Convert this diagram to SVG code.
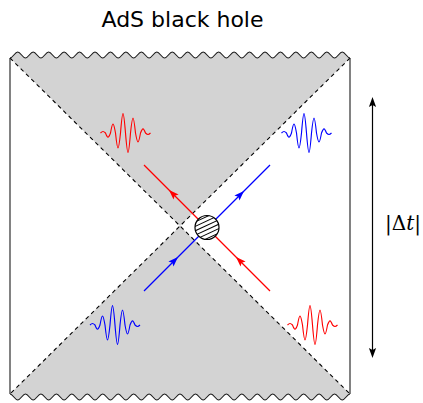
<svg xmlns="http://www.w3.org/2000/svg" xmlns:xlink="http://www.w3.org/1999/xlink" width="423" height="403" viewBox="0 0 423 403">
<style>
.edge{fill:none;stroke:#1a1a1a;stroke-width:1.1}
.gray{fill:#d3d3d3;stroke:none}
.dash{fill:none;stroke:#000;stroke-width:1.1;stroke-dasharray:4 3.5}
.pk{fill:none;stroke-width:1.15;stroke-linejoin:round}
.ray{fill:none;stroke-width:1.2}
.red{stroke:#ff0000}
.blue{stroke:#0000ff}
.title{font-family:"DejaVu Sans","Liberation Sans",sans-serif;font-size:22px;fill:#000}
.lbl{font-family:"DejaVu Serif","Liberation Serif",serif;font-size:20px;fill:#000}
</style>
<defs>
<path id="packet" d="M-25,0 C-22.88,-2 -22.12,-2 -20,0 C-17.88,5.6 -17.12,5.6 -15,0 C-12.88,-12 -12.12,-12 -10,0 C-7.88,20 -7.12,20 -5,0 C-2.88,-25.9 -2.12,-25.9 0,0 C2.12,25.9 2.88,25.9 5,0 C7.12,-20 7.88,-20 10,0 C12.12,12 12.88,12 15,0 C17.12,-5.6 17.88,-5.6 20,0 C22.12,2 22.88,2 25,0"/>
<path id="ah" d="M0,0 L-10,-3.6 L-8,0 L-10,3.6 Z"/>
<clipPath id="cc"><circle cx="207" cy="227.5" r="12"/></clipPath>
</defs>

<g id="title"><text class="title" x="182.5" y="27" text-anchor="middle">AdS black hole</text></g>

<g id="spacetime">
<path class="gray" d="M10,58 c2.814,0 4.913,-6 7.727,-6 s4.913,6 7.727,6 s4.913,-6 7.727,-6 s4.913,6 7.727,6 s4.913,-6 7.727,-6 s4.913,6 7.727,6 s4.913,-6 7.727,-6 s4.913,6 7.727,6 s4.913,-6 7.727,-6 s4.913,6 7.727,6 s4.913,-6 7.727,-6 s4.913,6 7.727,6 s4.913,-6 7.727,-6 s4.913,6 7.727,6 s4.913,-6 7.727,-6 s4.913,6 7.727,6 s4.913,-6 7.727,-6 s4.913,6 7.727,6 s4.913,-6 7.727,-6 s4.913,6 7.727,6 s4.913,-6 7.727,-6 s4.913,6 7.727,6 s4.913,-6 7.727,-6 s4.913,6 7.727,6 s4.913,-6 7.727,-6 s4.913,6 7.727,6 s4.913,-6 7.727,-6 s4.913,6 7.727,6 s4.913,-6 7.727,-6 s4.913,6 7.727,6 s4.913,-6 7.727,-6 s4.913,6 7.727,6 s4.913,-6 7.727,-6 s4.913,6 7.727,6 s4.913,-6 7.727,-6 s4.913,6 7.727,6 s4.913,-6 7.727,-6 s4.913,6 7.727,6 s4.913,-6 7.727,-6 s4.913,6 7.727,6 s4.913,-6 7.727,-6 s4.913,6 7.727,6 s4.913,-6 7.727,-6 s4.913,6 7.727,6 L180,226 Z"/>
<path class="gray" d="M10,394 c2.814,0 4.913,6 7.727,6 s4.913,-6 7.727,-6 s4.913,6 7.727,6 s4.913,-6 7.727,-6 s4.913,6 7.727,6 s4.913,-6 7.727,-6 s4.913,6 7.727,6 s4.913,-6 7.727,-6 s4.913,6 7.727,6 s4.913,-6 7.727,-6 s4.913,6 7.727,6 s4.913,-6 7.727,-6 s4.913,6 7.727,6 s4.913,-6 7.727,-6 s4.913,6 7.727,6 s4.913,-6 7.727,-6 s4.913,6 7.727,6 s4.913,-6 7.727,-6 s4.913,6 7.727,6 s4.913,-6 7.727,-6 s4.913,6 7.727,6 s4.913,-6 7.727,-6 s4.913,6 7.727,6 s4.913,-6 7.727,-6 s4.913,6 7.727,6 s4.913,-6 7.727,-6 s4.913,6 7.727,6 s4.913,-6 7.727,-6 s4.913,6 7.727,6 s4.913,-6 7.727,-6 s4.913,6 7.727,6 s4.913,-6 7.727,-6 s4.913,6 7.727,6 s4.913,-6 7.727,-6 s4.913,6 7.727,6 s4.913,-6 7.727,-6 s4.913,6 7.727,6 s4.913,-6 7.727,-6 s4.913,6 7.727,6 s4.913,-6 7.727,-6 s4.913,6 7.727,6 s4.913,-6 7.727,-6 s4.913,6 7.727,6 s4.913,-6 7.727,-6 L180,226 Z"/>
<line class="dash" x1="10" y1="58" x2="350" y2="394"/>
<line class="dash" x1="350" y1="58" x2="10" y2="394"/>
<path class="edge" d="M10,58 c2.814,0 4.913,-6 7.727,-6 s4.913,6 7.727,6 s4.913,-6 7.727,-6 s4.913,6 7.727,6 s4.913,-6 7.727,-6 s4.913,6 7.727,6 s4.913,-6 7.727,-6 s4.913,6 7.727,6 s4.913,-6 7.727,-6 s4.913,6 7.727,6 s4.913,-6 7.727,-6 s4.913,6 7.727,6 s4.913,-6 7.727,-6 s4.913,6 7.727,6 s4.913,-6 7.727,-6 s4.913,6 7.727,6 s4.913,-6 7.727,-6 s4.913,6 7.727,6 s4.913,-6 7.727,-6 s4.913,6 7.727,6 s4.913,-6 7.727,-6 s4.913,6 7.727,6 s4.913,-6 7.727,-6 s4.913,6 7.727,6 s4.913,-6 7.727,-6 s4.913,6 7.727,6 s4.913,-6 7.727,-6 s4.913,6 7.727,6 s4.913,-6 7.727,-6 s4.913,6 7.727,6 s4.913,-6 7.727,-6 s4.913,6 7.727,6 s4.913,-6 7.727,-6 s4.913,6 7.727,6 s4.913,-6 7.727,-6 s4.913,6 7.727,6 s4.913,-6 7.727,-6 s4.913,6 7.727,6 s4.913,-6 7.727,-6 s4.913,6 7.727,6 s4.913,-6 7.727,-6 s4.913,6 7.727,6 s4.913,-6 7.727,-6 s4.913,6 7.727,6"/>
<path class="edge" d="M10,394 c2.814,0 4.913,6 7.727,6 s4.913,-6 7.727,-6 s4.913,6 7.727,6 s4.913,-6 7.727,-6 s4.913,6 7.727,6 s4.913,-6 7.727,-6 s4.913,6 7.727,6 s4.913,-6 7.727,-6 s4.913,6 7.727,6 s4.913,-6 7.727,-6 s4.913,6 7.727,6 s4.913,-6 7.727,-6 s4.913,6 7.727,6 s4.913,-6 7.727,-6 s4.913,6 7.727,6 s4.913,-6 7.727,-6 s4.913,6 7.727,6 s4.913,-6 7.727,-6 s4.913,6 7.727,6 s4.913,-6 7.727,-6 s4.913,6 7.727,6 s4.913,-6 7.727,-6 s4.913,6 7.727,6 s4.913,-6 7.727,-6 s4.913,6 7.727,6 s4.913,-6 7.727,-6 s4.913,6 7.727,6 s4.913,-6 7.727,-6 s4.913,6 7.727,6 s4.913,-6 7.727,-6 s4.913,6 7.727,6 s4.913,-6 7.727,-6 s4.913,6 7.727,6 s4.913,-6 7.727,-6 s4.913,6 7.727,6 s4.913,-6 7.727,-6 s4.913,6 7.727,6 s4.913,-6 7.727,-6 s4.913,6 7.727,6 s4.913,-6 7.727,-6 s4.913,6 7.727,6 s4.913,-6 7.727,-6 s4.913,6 7.727,6 s4.913,-6 7.727,-6"/>
<line class="edge" x1="10" y1="58" x2="10" y2="394"/>
<line class="edge" x1="350" y1="58" x2="350" y2="394"/>
</g>

<g id="packets">
<use xlink:href="#packet" href="#packet" class="pk red" transform="translate(125.5,133)"/>
<use xlink:href="#packet" href="#packet" class="pk blue" transform="translate(306.5,133)"/>
<use xlink:href="#packet" href="#packet" class="pk blue" transform="translate(115,325)"/>
<use xlink:href="#packet" href="#packet" class="pk red" transform="translate(312.5,325)"/>
</g>

<g id="connectors">
<line class="ray red" x1="270" y1="291" x2="144" y2="165"/>
<line class="ray blue" x1="144" y1="291" x2="270" y2="165"/>
<use xlink:href="#ah" href="#ah" fill="#ff0000" transform="translate(169,190) rotate(-135)"/>
<use xlink:href="#ah" href="#ah" fill="#ff0000" transform="translate(236,257) rotate(-135)"/>
<use xlink:href="#ah" href="#ah" fill="#0000ff" transform="translate(178,257) rotate(-45)"/>
<use xlink:href="#ah" href="#ah" fill="#0000ff" transform="translate(244,191) rotate(-45)"/>
<line x1="372.5" y1="104" x2="372.5" y2="351" stroke="#000" stroke-width="1.2"/>
<use xlink:href="#ah" href="#ah" fill="#000" transform="translate(372.5,97) rotate(-90)"/>
<use xlink:href="#ah" href="#ah" fill="#000" transform="translate(372.5,358) rotate(90)"/>
</g>

<g id="scatter">
<circle cx="207" cy="227.5" r="12" fill="#fff"/>
<g clip-path="url(#cc)" stroke="#000" stroke-width="1">
<g transform="rotate(-25 207 227.5)">
<line x1="190" y1="217.5" x2="224" y2="217.5"/>
<line x1="190" y1="221.5" x2="224" y2="221.5"/>
<line x1="190" y1="225.5" x2="224" y2="225.5"/>
<line x1="190" y1="229.5" x2="224" y2="229.5"/>
<line x1="190" y1="233.5" x2="224" y2="233.5"/>
<line x1="190" y1="237.5" x2="224" y2="237.5"/>
</g>
</g>
<circle cx="207" cy="227.5" r="12" fill="none" stroke="#000" stroke-width="1.2"/>
</g>

<g id="label"><text class="lbl" x="385" y="229.5">|Δ<tspan font-style="italic">t</tspan>|</text></g>
</svg>
